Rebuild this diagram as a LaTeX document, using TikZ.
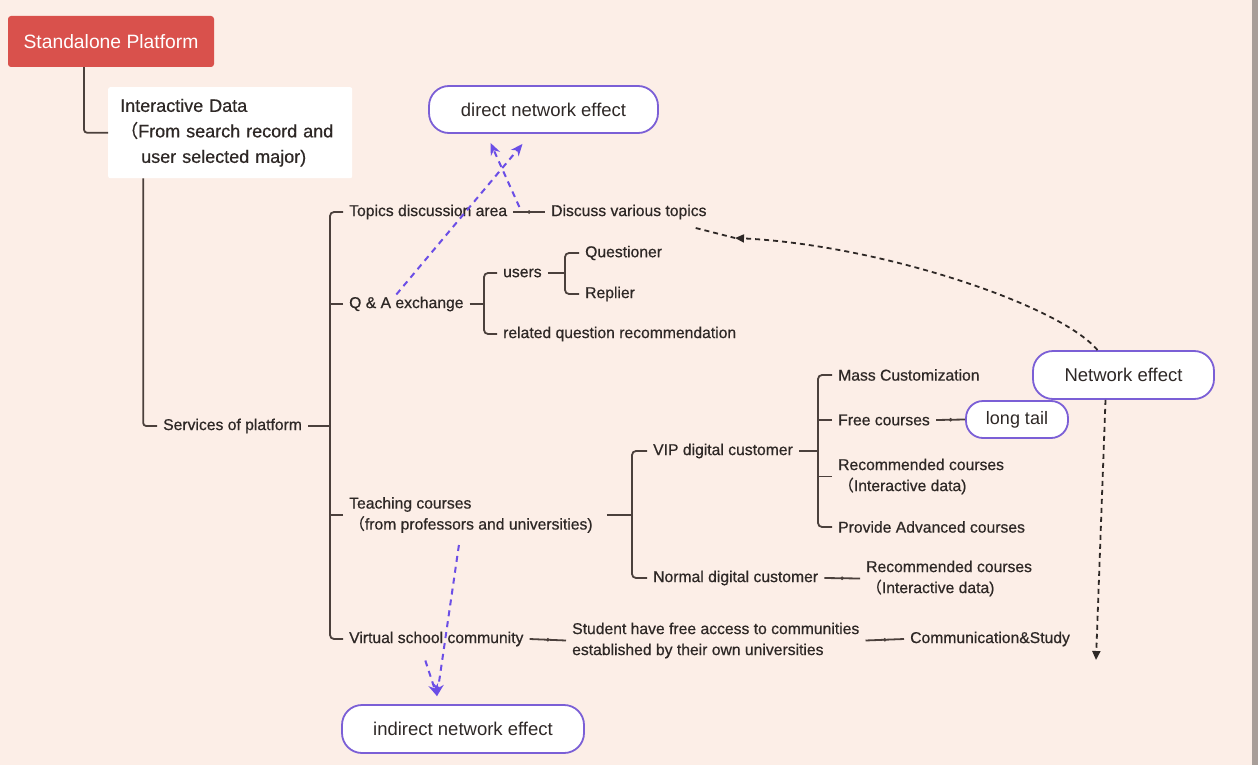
\documentclass[tikz,border=0pt]{standalone}
\usepackage{fontspec}
\setmainfont{Liberation Sans}
\newfontfamily\medfont[FakeBold=0.6]{Liberation Sans}
\newfontfamily\cjk{Noto Sans CJK SC}
\newfontfamily\medcjk[FakeBold=0.6]{Noto Sans CJK SC}
\usetikzlibrary{arrows.meta}
\definecolor{bgc}{HTML}{FCEEE7}
\definecolor{edgec}{HTML}{A89E99}
\definecolor{redc}{HTML}{D9514C}
\definecolor{txtc}{HTML}{2E2826}
\definecolor{treec}{HTML}{4B403C}
\definecolor{pur}{HTML}{7B5FD6}
\definecolor{parr}{HTML}{6B4EE6}
\definecolor{blk}{HTML}{2E2826}
\newcommand\fp{{\medcjk （}}
\newcommand\txtfont{\medfont\fontsize{15.7}{21}\selectfont}
\newcommand\pillfont{\fontsize{18.5}{22}\selectfont}
\begin{document}
\begin{tikzpicture}[x=1pt,y=-1pt,
  lbl/.style={font=\txtfont, text=txtc, inner xsep=6pt, inner ysep=2pt, anchor=west, align=left},
  tree/.style={draw=treec, line width=1.8pt},
  pill/.style={draw=pur, line width=1.8pt, fill=white, rounded corners=20pt, font=\pillfont, text=txtc, inner sep=0pt},
  parrow/.style={draw=parr, line width=2pt, dash pattern=on 6pt off 5pt, -{Stealth[length=12pt,width=10pt]}},
  barrow/.style={draw=blk, line width=1.8pt, dash pattern=on 5pt off 4pt, -{Triangle[length=9pt,width=8pt]}},
  dot/.style={circle, fill=treec, inner sep=1.4pt}]
\useasboundingbox (0,0) rectangle (1258,765);
\fill[bgc] (0,0) rectangle (1258,765);
\fill[edgec] (1252,0) rectangle (1258,765);

% top boxes
\node[fill=redc, rounded corners=3pt, minimum width=206pt, minimum height=51pt, inner sep=0pt,
  text=white, font=\fontsize{19.3}{23}\selectfont] (red) at (111,41.5) {Standalone Platform};
\node[fill=white, rounded corners=2pt, minimum width=244pt, minimum height=91pt, inner xsep=12pt,
  text width=220pt, align=left, text=txtc, font=\medfont\fontsize{18}{25.5}\selectfont, anchor=north west]
  (intbox) at (108,87) {Interactive Data\\\fp From search record and\\\hspace*{21pt}user selected major)};

% pills
\node[pill, minimum width=229pt, minimum height=47pt] (direct) at (543.5,109.5) {direct network effect};
\node[pill, minimum width=181pt, minimum height=48pt] (neteff) at (1123.5,375) {Network effect};
\node[pill, minimum width=242pt, minimum height=48pt] (indirect) at (463,729) {indirect network effect};
\node[pill, minimum width=102pt, minimum height=37pt, rounded corners=17pt, font=\fontsize{18}{22}\selectfont] (longtail) at (1017,419.5) {long tail};

% text nodes
\node[lbl] (svc) at (157,426) {Services of platform};
\node[lbl] (topics) at (343,212) {Topics discussion area};
\node[lbl] (discuss) at (545,212) {Discuss various topics};
\node[lbl] (qa) at (343,304) {Q \& A exchange};
\node[lbl] (users) at (497,273) {users};
\node[lbl] (quest) at (579,253) {Questioner};
\node[lbl] (repl) at (579,294) {Replier};
\node[lbl] (relq) at (497,334) {related question recommendation};
\node[lbl] (teach) at (343,515) {Teaching courses\\\fp from professors and universities)};
\node[lbl] (vip) at (647,451) {VIP digital customer};
\node[lbl] (normal) at (647,578) {Normal digital customer};
\node[lbl] (mass) at (832,375) {Mass Customization};
\node[lbl] (free) at (832,420) {Free courses};
\node[lbl] (rec1) at (832,476.5) {Recommended courses\\\fp Interactive data)};
\node[lbl] (adv) at (832,527) {Provide Advanced courses};
\node[lbl] (rec2) at (860,578.5) {Recommended courses\\\fp Interactive data)};
\node[lbl] (virtual) at (343,639) {Virtual school community};
\node[lbl] (student) at (566,640.5) {Student have free access to communities\\established by their own universities};
\node[lbl] (comm) at (904,639) {Communication\&Study};

% tree connectors
\draw[tree, rounded corners=3pt] ([xshift=-27pt]red.south) |- (intbox.west);
\draw[tree, rounded corners=3pt] ([xshift=-87pt]intbox.south) |- (svc.west);

\coordinate (b1) at (330,0);
\coordinate (b2) at (484,0);
\coordinate (b3) at (565,0);
\coordinate (b4) at (632,0);
\coordinate (b5) at (818,0);

\draw[tree, rounded corners=4pt] (topics.west) -- (topics.west -| b1) -- (virtual.west -| b1) -- (virtual.west);
\draw[tree] (svc.east) -- (svc.east -| b1);
\draw[tree] (qa.west) -- (qa.west -| b1);
\draw[tree] (teach.west) -- (teach.west -| b1);

\draw[tree, rounded corners=4pt] (users.west) -- (users.west -| b2) -- (relq.west -| b2) -- (relq.west);
\draw[tree] (qa.east) -- (qa.east -| b2);

\draw[tree, rounded corners=4pt] (quest.west) -- (quest.west -| b3) -- (repl.west -| b3) -- (repl.west);
\draw[tree] (users.east) -- (users.east -| b3);

\draw[tree, rounded corners=4pt] (vip.west) -- (vip.west -| b4) -- (normal.west -| b4) -- (normal.west);
\draw[tree] ([xshift=8pt]teach.east) -- (teach.east -| b4);

\draw[tree, rounded corners=4pt] (mass.west) -- (mass.west -| b5) -- (adv.west -| b5) -- (adv.west);
\draw[tree] (vip.east) -- (vip.east -| b5);
\draw[tree] (free.west) -- (free.west -| b5);
\draw[tree] (rec1.west) -- (rec1.west -| b5);

\draw[tree] (topics.east) -- node[dot]{} (discuss.west);
\draw[tree] (free.east) -- node[dot]{} (longtail.west);
\draw[tree] (normal.east) -- node[dot]{} (rec2.west);
\draw[tree] (virtual.east) -- node[dot]{} (student.west);
\draw[tree] (student.east) -- node[dot]{} (comm.west);

% purple dashed arrows
\draw[parrow] ([xshift=-10pt]qa.north) -- ([xshift=-21pt,yshift=-10pt]direct.south);
\draw[parrow] ([xshift=6pt,yshift=5pt]topics.east) -- ([xshift=-53pt,yshift=-9pt]direct.south);
\draw[parrow] ([xshift=-12pt,yshift=-10pt]teach.south) -- ([xshift=-26pt,yshift=8pt]indirect.north);
\draw[parrow] ([xshift=-11pt,yshift=-12pt]virtual.south) -- ([xshift=-26pt,yshift=8pt]indirect.north);

% black dashed arrows
\coordinate (dvend) at (735,238);
\coordinate (nend) at (1096,660);
\draw[barrow] ([xshift=-26pt]neteff.north) .. controls (1060,305) and (880,245) .. (dvend);
\draw[draw=blk, line width=1.8pt, dash pattern=on 5pt off 4pt] ([xshift=-17pt,yshift=-16pt]discuss.east) -- (dvend);
\draw[barrow] ([xshift=-18pt]neteff.south) -- (nend);
\end{tikzpicture}
\end{document}
